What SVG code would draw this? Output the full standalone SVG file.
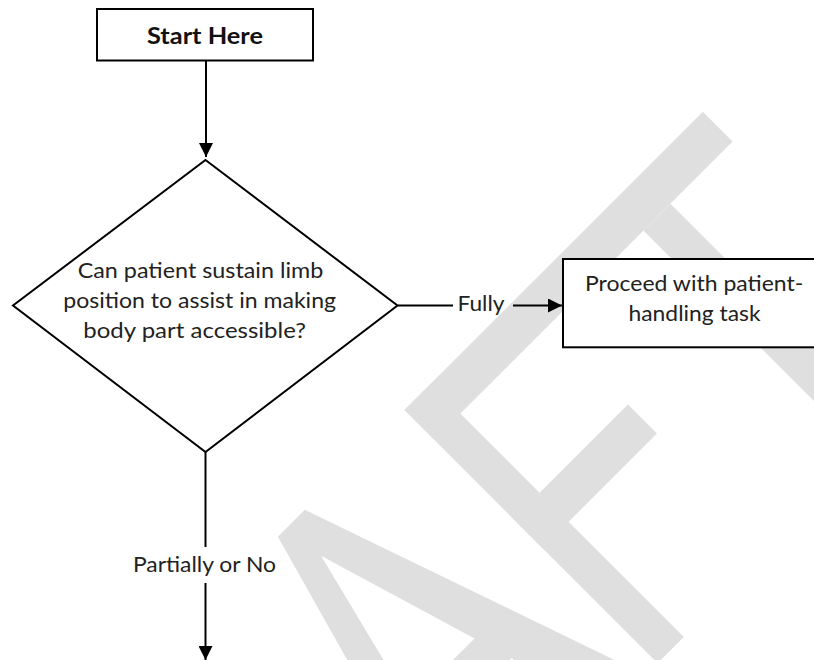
<svg xmlns="http://www.w3.org/2000/svg" width="814" height="660" viewBox="0 0 814 660">
  <style>
    .wm { fill: #dfdfdf; }
    .shape { fill: #ffffff; stroke: #000000; stroke-width: 2; }
    .edge { fill: none; stroke: #000000; stroke-width: 2; }
    .label { font-family: Lato, "Open Sans", sans-serif; font-size: 22px; fill: #222222; }
    .bold { font-weight: bold; fill: #111111; }
  </style>
  <defs>
    <marker id="arrow" viewBox="0 0 14 14" refX="14" refY="7" markerWidth="14" markerHeight="14" markerUnits="userSpaceOnUse" orient="auto">
      <path d="M0,0 L14,7 L0,14 Z" fill="#000000"/>
    </marker>
  </defs>

  <rect x="0" y="0" width="814" height="660" fill="#ffffff"/>

  <!-- DRAFT watermark, letters laid out along a 45 degree baseline -->
  <g id="watermark" transform="rotate(-45)">
    <!-- A -->
    <path class="wm" fill-rule="evenodd" d="M-183,576 L-145,576 L-20.8,934 L-71.8,934 L-103.9,827 L-217.8,827 L-244.5,934 L-283.2,934 Z M-166,620 L-115.9,787 L-207.8,787 Z"/>
    <!-- F and T share the cap-height bar -->
    <rect class="wm" x="-4" y="576" width="422" height="42"/>
    <rect class="wm" x="-4" y="576" width="37" height="358"/>
    <rect class="wm" x="-4" y="730" width="162" height="41"/>
    <rect class="wm" x="292" y="618" width="38" height="316"/>
  </g>

  <!-- connectors -->
  <g id="connectors">
    <line class="edge" x1="206" y1="61" x2="206" y2="157" marker-end="url(#arrow)"/>
    <line class="edge" x1="398" y1="305.5" x2="453" y2="305.5"/>
    <line class="edge" x1="513" y1="305.5" x2="562" y2="305.5" marker-end="url(#arrow)"/>
    <text class="label" x="457.5" y="311" textLength="47" lengthAdjust="spacingAndGlyphs">Fully</text>
    <line class="edge" x1="205.5" y1="452" x2="205.5" y2="547"/>
    <text class="label" x="133" y="572" textLength="143" lengthAdjust="spacingAndGlyphs">Partially or No</text>
    <line class="edge" x1="205.5" y1="583" x2="205.5" y2="660" marker-end="url(#arrow)"/>
  </g>

  <!-- start node -->
  <g id="start">
    <rect class="shape" x="97" y="9" width="216" height="51.5"/>
    <text class="label bold" x="147" y="44.3" textLength="116" lengthAdjust="spacingAndGlyphs">Start Here</text>
  </g>

  <!-- decision node -->
  <g id="decision">
    <polygon class="shape" points="205.5,160 397.5,305.5 205.5,452 13,305.5"/>
    <text class="label" x="77.7" y="278" textLength="245.6" lengthAdjust="spacingAndGlyphs">Can patient sustain limb</text>
    <text class="label" x="63.3" y="307.7" textLength="272.7" lengthAdjust="spacingAndGlyphs">position to assist in making</text>
    <text class="label" x="83.3" y="337.5" textLength="222.7" lengthAdjust="spacingAndGlyphs">body part accessible?</text>
  </g>

  <!-- outcome node, runs past the right edge -->
  <g id="proceed">
    <rect class="shape" x="563" y="259" width="270" height="88.3"/>
    <text class="label" x="585" y="291" textLength="218.3" lengthAdjust="spacingAndGlyphs">Proceed with patient-</text>
    <text class="label" x="628.5" y="321" textLength="132" lengthAdjust="spacingAndGlyphs">handling task</text>
  </g>
</svg>
